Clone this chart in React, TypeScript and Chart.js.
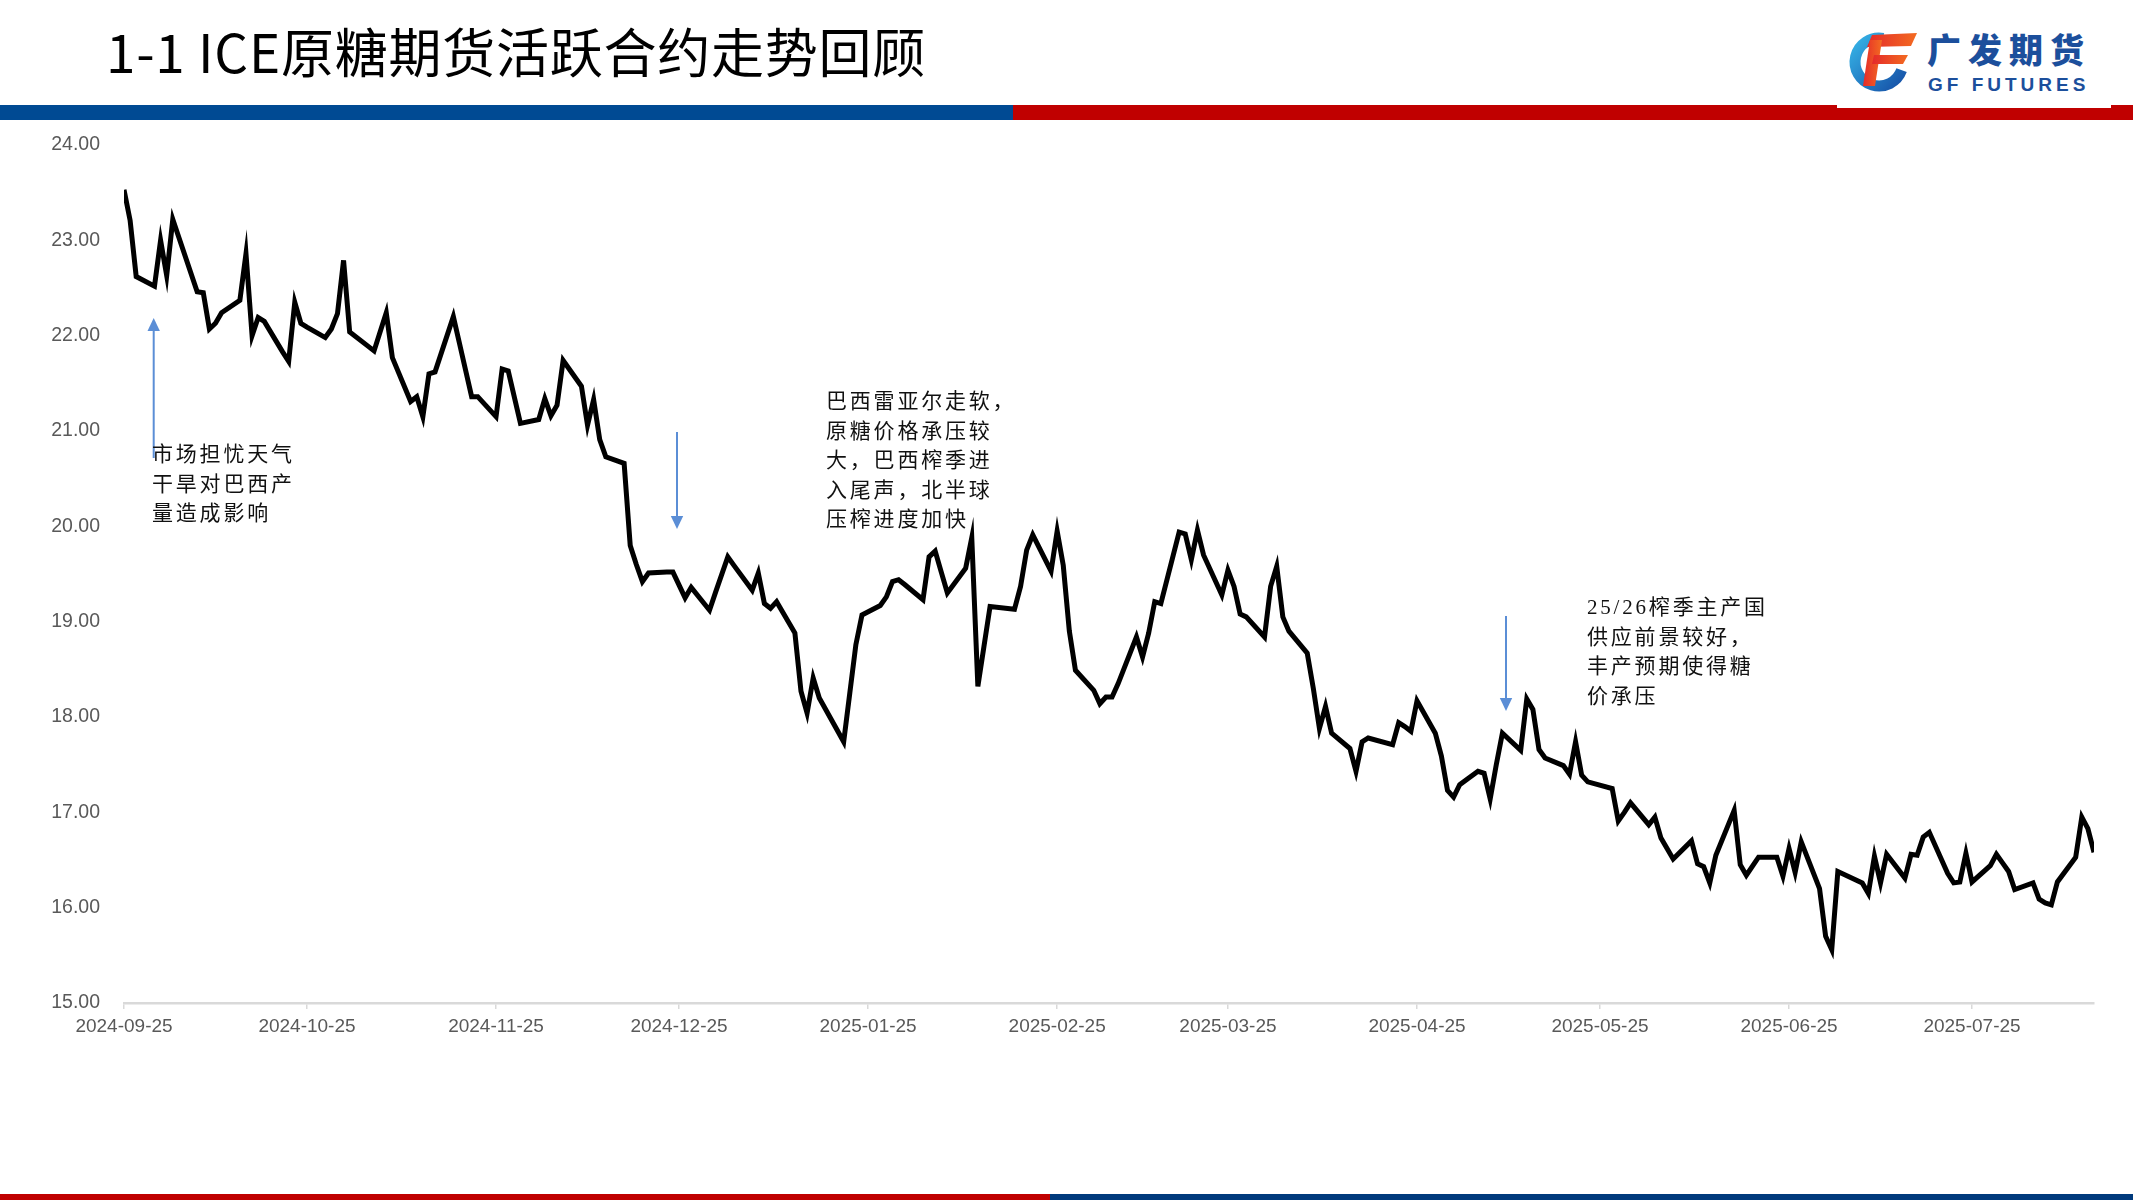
import React, { useEffect, useRef } from "react";
import { Chart, registerables } from "chart.js";

Chart.register(...registerables);

// ---- data ----
const dates: string[] = [
  "2024-09-25","2024-09-26","2024-09-27","2024-09-30","2024-10-01","2024-10-02","2024-10-03","2024-10-04",
  "2024-10-07","2024-10-08","2024-10-09","2024-10-10","2024-10-11","2024-10-14","2024-10-15","2024-10-16",
  "2024-10-17","2024-10-18","2024-10-21","2024-10-22","2024-10-23","2024-10-24","2024-10-25","2024-10-28",
  "2024-10-29","2024-10-30","2024-10-31","2024-11-01","2024-11-04","2024-11-05","2024-11-06","2024-11-07",
  "2024-11-08","2024-11-11","2024-11-12","2024-11-13","2024-11-14","2024-11-15","2024-11-18","2024-11-19",
  "2024-11-20","2024-11-21","2024-11-22","2024-11-25","2024-11-26","2024-11-27","2024-11-29","2024-12-02",
  "2024-12-03","2024-12-04","2024-12-05","2024-12-06","2024-12-09","2024-12-10","2024-12-11","2024-12-12",
  "2024-12-13","2024-12-16","2024-12-17","2024-12-18","2024-12-19","2024-12-20","2024-12-23","2024-12-24",
  "2024-12-26","2024-12-27","2024-12-30","2024-12-31","2025-01-02","2025-01-03","2025-01-06","2025-01-07",
  "2025-01-08","2025-01-09","2025-01-10","2025-01-13","2025-01-14","2025-01-15","2025-01-16","2025-01-17",
  "2025-01-21","2025-01-22","2025-01-23","2025-01-24","2025-01-27","2025-01-28","2025-01-29","2025-01-30",
  "2025-01-31","2025-02-03","2025-02-04","2025-02-05","2025-02-06","2025-02-07","2025-02-10","2025-02-11",
  "2025-02-12","2025-02-13","2025-02-14","2025-02-18","2025-02-19","2025-02-20","2025-02-21","2025-02-24",
  "2025-02-25","2025-02-26","2025-02-27","2025-02-28","2025-03-03","2025-03-04","2025-03-05","2025-03-06",
  "2025-03-07","2025-03-10","2025-03-11","2025-03-12","2025-03-13","2025-03-14","2025-03-17","2025-03-18",
  "2025-03-19","2025-03-20","2025-03-21","2025-03-24","2025-03-25","2025-03-26","2025-03-27","2025-03-28",
  "2025-03-31","2025-04-01","2025-04-02","2025-04-03","2025-04-04","2025-04-07","2025-04-08","2025-04-09",
  "2025-04-10","2025-04-11","2025-04-14","2025-04-15","2025-04-16","2025-04-17","2025-04-21","2025-04-22",
  "2025-04-23","2025-04-24","2025-04-25","2025-04-28","2025-04-29","2025-04-30","2025-05-01","2025-05-02",
  "2025-05-05","2025-05-06","2025-05-07","2025-05-08","2025-05-09","2025-05-12","2025-05-13","2025-05-14",
  "2025-05-15","2025-05-16","2025-05-19","2025-05-20","2025-05-21","2025-05-22","2025-05-23","2025-05-27",
  "2025-05-28","2025-05-29","2025-05-30","2025-06-02","2025-06-03","2025-06-04","2025-06-05","2025-06-06",
  "2025-06-09","2025-06-10","2025-06-11","2025-06-12","2025-06-13","2025-06-16","2025-06-17","2025-06-18",
  "2025-06-20","2025-06-23","2025-06-24","2025-06-25","2025-06-26","2025-06-27","2025-06-30","2025-07-01",
  "2025-07-02","2025-07-03","2025-07-07","2025-07-08","2025-07-09","2025-07-10","2025-07-11","2025-07-14",
  "2025-07-15","2025-07-16","2025-07-17","2025-07-18","2025-07-21","2025-07-22","2025-07-23","2025-07-24",
  "2025-07-25","2025-07-28","2025-07-29","2025-07-30","2025-07-31","2025-08-01","2025-08-04","2025-08-05",
  "2025-08-06","2025-08-07","2025-08-08","2025-08-11","2025-08-12","2025-08-13","2025-08-14",
];

const prices: number[] = [
  23.53,23.21,22.62,22.52,23.00,22.63,23.22,23.03,
  22.46,22.45,22.07,22.13,22.24,22.37,22.86,22.00,
  22.19,22.15,21.83,21.73,22.35,22.13,22.09,21.98,
  22.07,22.23,22.79,22.04,21.89,21.84,22.04,22.24,
  21.77,21.31,21.36,21.15,21.60,21.62,22.20,21.92,
  21.64,21.36,21.36,21.15,21.65,21.63,21.08,21.12,
  21.34,21.16,21.27,21.74,21.47,21.06,21.33,20.91,
  20.73,20.66,19.80,19.60,19.42,19.51,19.52,19.52,
  19.25,19.36,19.12,19.31,19.68,19.59,19.33,19.51,
  19.19,19.14,19.21,18.88,18.27,18.04,18.41,18.20,
  17.74,18.25,18.76,19.07,19.17,19.26,19.42,19.44,
  19.39,19.23,19.68,19.74,19.52,19.30,19.56,19.88,
  18.32,18.74,19.16,19.13,19.37,19.75,19.91,19.53,
  19.95,19.59,18.90,18.49,18.28,18.14,18.21,18.21,
  18.35,18.84,18.63,18.88,19.21,19.19,19.94,19.92,
  19.65,19.96,19.70,19.28,19.54,19.37,19.08,19.05,
  18.84,19.37,19.58,19.05,18.90,18.67,18.30,17.88,
  18.11,17.83,17.67,17.43,17.74,17.78,17.71,17.94,
  17.90,17.85,18.17,17.83,17.59,17.23,17.16,17.29,
  17.43,17.41,17.14,17.50,17.83,17.65,18.19,18.08,
  17.66,17.57,17.49,17.40,17.74,17.39,17.32,17.25,
  16.91,17.00,17.10,16.87,16.95,16.73,16.62,16.51,
  16.70,16.46,16.43,16.26,16.55,17.02,16.45,16.34,
  16.53,16.53,16.33,16.62,16.37,16.69,16.20,15.70,
  15.56,16.38,16.26,16.15,16.54,16.26,16.56,16.31,
  16.56,16.55,16.74,16.79,16.36,16.26,16.27,16.57,
  16.27,16.44,16.56,16.47,16.38,16.19,16.26,16.09,
  16.05,16.03,16.27,16.53,16.95,16.83,16.58,
];

const xTickDates: string[] = [
  "2024-09-25","2024-10-25","2024-11-25","2024-12-25","2025-01-25","2025-02-25",
  "2025-03-25","2025-04-25","2025-05-25","2025-06-25","2025-07-25",
];

const yMin = 15;
const yMax = 24;

const TITLE = "1-1 ICE原糖期货活跃合约走势回顾";
const NOTE1 = "市场担忧天气\n干旱对巴西产\n量造成影响";
const NOTE2 = "巴西雷亚尔走软，\n原糖价格承压较\n大，巴西榨季进\n入尾声，北半球\n压榨进度加快";
const NOTE3 = "25/26榨季主产国\n供应前景较好，\n丰产预期使得糖\n价承压";

// ---- helpers ----
const DAY = 86400000;
const BASE = Date.UTC(2024, 8, 25);
function dayOffset(s: string): number {
  const [y, m, d] = s.split("-").map(Number);
  return Math.round((Date.UTC(y, m - 1, d) - BASE) / DAY);
}
function fmtDay(off: number): string {
  const dt = new Date(BASE + off * DAY);
  const mm = String(dt.getUTCMonth() + 1).padStart(2, "0");
  const dd = String(dt.getUTCDate()).padStart(2, "0");
  return `${dt.getUTCFullYear()}-${mm}-${dd}`;
}

const W = 2133;
const H = 1200;

export default function App() {
  const canvasRef = useRef<HTMLCanvasElement | null>(null);

  useEffect(() => {
    const canvas = canvasRef.current;
    if (!canvas) return;
    const points = dates.map((d, i) => ({ x: dayOffset(d), y: prices[i] }));
    const xMax = dayOffset(dates[dates.length - 1]);
    const tickVals = xTickDates.map(dayOffset);

    const chart = new Chart(canvas, {
      type: "line",
      data: {
        datasets: [
          {
            label: "ICE原糖",
            data: points,
            borderColor: "#000000",
            backgroundColor: "#000000",
            borderWidth: 5,
            pointRadius: 0,
            tension: 0,
            fill: false,
          },
        ],
      },
      options: {
        animation: false,
        responsive: false,
        devicePixelRatio: 1,
        layout: { padding: { left: 0, right: 39, top: 145, bottom: 0 } },
        plugins: {
          legend: { display: false },
          title: { display: false },
          tooltip: { enabled: false },
        },
        scales: {
          x: {
            type: "linear",
            min: 0,
            max: xMax,
            afterFit: (scale: any) => {
              scale.height = H - 1003;
            },
            afterBuildTicks: (scale: any) => {
              scale.ticks = tickVals.map((v) => ({ value: v }));
            },
            grid: {
              display: true,
              drawOnChartArea: false,
              drawTicks: true,
              tickLength: 6,
              color: "#d9d9d9",
              lineWidth: 1.5,
            },
            border: { display: true, color: "#d9d9d9", width: 2.5 },
            ticks: {
              autoSkip: false,
              maxRotation: 0,
              padding: 6,
              color: "#595959",
              font: { family: "'Liberation Sans', Arial, sans-serif", size: 19 },
              callback: (v: any) => fmtDay(Number(v)),
            },
          },
          y: {
            type: "linear",
            min: yMin,
            max: yMax,
            afterFit: (scale: any) => {
              scale.width = 124;
            },
            grid: { display: false, drawTicks: false },
            border: { display: false },
            ticks: {
              stepSize: 1,
              padding: 24,
              color: "#595959",
              font: { family: "'Liberation Sans', Arial, sans-serif", size: 19.5 },
              callback: (v: any) => Number(v).toFixed(2),
            },
          },
        },
      },
    });
    return () => chart.destroy();
  }, []);

  const noteStyle: React.CSSProperties = {
    position: "absolute",
    whiteSpace: "pre",
    fontFamily: "'Liberation Serif', 'Noto Sans CJK SC', serif",
    fontSize: 21,
    lineHeight: "29.5px",
    letterSpacing: "2.8px",
    color: "#111",
  };
  const arrowColor = "#5b8ed6";

  return (
    <div
      style={{
        position: "absolute",
        left: 0,
        top: 0,
        width: W,
        height: H,
        overflow: "hidden",
        background: "#ffffff",
      }}
    >
      {/* title */}
      <div
        style={{
          position: "absolute",
          left: 106,
          top: 24,
          fontFamily: "'Noto Sans CJK SC', sans-serif",
          fontSize: 53,
          lineHeight: "53px",
          letterSpacing: "0.75px",
          color: "#000",
          whiteSpace: "pre",
        }}
      >
        {TITLE}
      </div>

      {/* top bars */}
      <div style={{ position: "absolute", left: 0, top: 105, width: 1013, height: 15, background: "#004a93" }} />
      <div style={{ position: "absolute", left: 1013, top: 105, width: W - 1013, height: 15, background: "#c00000" }} />
      <div style={{ position: "absolute", left: 1837, top: 0, width: 274, height: 108, background: "#ffffff" }} />

      {/* logo + arrows */}
      <svg
        width={W}
        height={H}
        style={{ position: "absolute", left: 0, top: 0, pointerEvents: "none" }}
      >
        <defs>
          <linearGradient id="ring" x1="0" y1="0" x2="1" y2="1">
            <stop offset="0" stopColor="#35b2e6" />
            <stop offset="1" stopColor="#1652a8" />
          </linearGradient>
          <linearGradient id="fgrad" x1="0" y1="0" x2="1" y2="0">
            <stop offset="0" stopColor="#e42a2a" />
            <stop offset="1" stopColor="#f36b21" />
          </linearGradient>
        </defs>
        <path
          d="M 1883.2 38.4 A 24 24 0 1 0 1901.6 70.2"
          fill="none"
          stroke="url(#ring)"
          strokeWidth={11}
        />
        <polygon points="1872,35 1917,33 1911,46 1867,47" fill="url(#fgrad)" />
        <polygon points="1870,40 1882,40 1875,86 1863,86" fill="url(#fgrad)" />
        <polygon points="1874,55 1908,55 1903,64 1872,64" fill="url(#fgrad)" />

        <line x1={153.7} y1={458} x2={153.7} y2={329} stroke={arrowColor} strokeWidth={2} />
        <polygon points="153.7,318 147.5,331 159.9,331" fill={arrowColor} />
        <line x1={677} y1={432} x2={677} y2={518} stroke={arrowColor} strokeWidth={2} />
        <polygon points="677,529 670.8,516 683.2,516" fill={arrowColor} />
        <line x1={1506} y1={616} x2={1506} y2={700} stroke={arrowColor} strokeWidth={2} />
        <polygon points="1506,711 1499.8,698 1512.2,698" fill={arrowColor} />
      </svg>
      <div
        style={{
          position: "absolute",
          left: 1927,
          top: 32,
          fontFamily: "'Noto Sans CJK SC', sans-serif",
          fontWeight: 900,
          fontSize: 34,
          lineHeight: "34px",
          letterSpacing: "7px",
          color: "#1c4f9c",
          whiteSpace: "pre",
        }}
      >
        广发期货
      </div>
      <div
        style={{
          position: "absolute",
          left: 1928,
          top: 75,
          fontFamily: "'Liberation Sans', Arial, sans-serif",
          fontWeight: 700,
          fontSize: 19,
          lineHeight: "19px",
          letterSpacing: "4px",
          color: "#1c4f9c",
          whiteSpace: "pre",
        }}
      >
        GF FUTURES
      </div>

      {/* chart */}
      <canvas
        ref={canvasRef}
        width={W}
        height={H}
        style={{ position: "absolute", left: 0, top: 0, width: W, height: H }}
      />

      {/* annotations */}
      <div style={{ ...noteStyle, left: 152, top: 440 }}>{NOTE1}</div>
      <div style={{ ...noteStyle, left: 826, top: 387 }}>{NOTE2}</div>
      <div style={{ ...noteStyle, left: 1587, top: 593 }}>{NOTE3}</div>

      {/* bottom bars */}
      <div style={{ position: "absolute", left: 0, top: 1194, width: 1050, height: 6, background: "#c00000" }} />
      <div style={{ position: "absolute", left: 1050, top: 1194, width: W - 1050, height: 6, background: "#003a7c" }} />
    </div>
  );
}
